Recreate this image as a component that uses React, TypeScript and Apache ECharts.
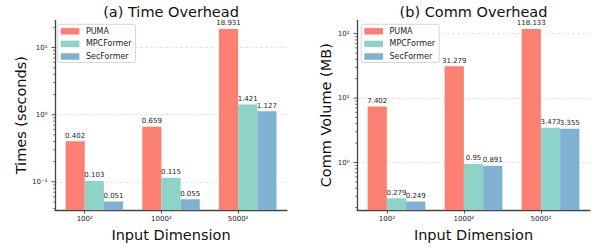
import React, { useEffect, useRef } from 'react';
import * as echarts from 'echarts';

const categories = ['100²', '1000²', '5000²'];
const seriesNames = ['PUMA', 'MPCFormer', 'SecFormer'];
const timePUMA = [0.402, 0.659, 18.931];
const timeMPCFormer = [0.103, 0.115, 1.421];
const timeSecFormer = [0.051, 0.055, 1.127];
const commPUMA = [7.402, 31.279, 118.133];
const commMPCFormer = [0.279, 0.95, 3.473];
const commSecFormer = [0.249, 0.891, 3.355];
const colors = ['#fb8072', '#8dd3c7', '#80b1d3'];
const titles = ['(a) Time Overhead', '(b) Comm Overhead'];
const yLabels = ['Times (seconds)', 'Comm Volume (MB)'];
const xLabel = 'Input Dimension';

const FONT = 'DejaVu Sans';
const SUP: Record<string, string> = { '0': '⁰', '1': '¹', '2': '²', '3': '³', '4': '⁴', '5': '⁵', '6': '⁶', '7': '⁷', '8': '⁸', '9': '⁹', '-': '⁻' };

function logLimits(vals: number[]): [number, number] {
  const lo = Math.log10(Math.min(...vals));
  const hi = Math.log10(Math.max(...vals));
  const m = (hi - lo) * 0.05;
  return [Math.pow(10, lo - m), Math.pow(10, hi + m)];
}

function tickValues(min: number, max: number): number[][] {
  const out: number[][] = [];
  for (let e = Math.floor(Math.log10(min)); e <= Math.ceil(Math.log10(max)); e++) {
    for (let k = 1; k <= 9; k++) {
      const v = k * Math.pow(10, e);
      if (v >= min && v <= max) out.push([v, k === 1 ? 1 : 0]);
    }
  }
  return out;
}

function powLabel(v: number): string {
  const l = Math.log10(v);
  const r = Math.round(l);
  if (Math.abs(l - r) > 1e-6) return '';
  return '10' + String(r).split('').map((c) => SUP[c]).join('');
}

export default function App() {
  const ref = useRef<HTMLDivElement>(null);
  useEffect(() => {
    if (!ref.current) return;
    const chart = echarts.init(ref.current, null, { renderer: 'svg' });
    const panels = [
      { data: [timePUMA, timeMPCFormer, timeSecFormer], grid: { left: 55, top: 20.3, width: 232, height: 190.4 }, nameGap: 26, legendLeft: 57.7 },
      { data: [commPUMA, commMPCFormer, commSecFormer], grid: { left: 357, top: 20.3, width: 233, height: 190.4 }, nameGap: 21.5, legendLeft: 361.3 },
    ];
    const xMin = -0.3875;
    const xMax = 2.6375;
    const grids: any[] = [];
    const xAxes: any[] = [];
    const yAxes: any[] = [];
    const series: any[] = [];
    const titleOpts: any[] = [];
    const legends: any[] = [];
    panels.forEach((p, pi) => {
      const all = p.data.flat();
      const [yMin, yMax] = logLimits(all);
      grids.push(p.grid);
      const barWidth = (p.grid.width / (xMax - xMin)) * 0.25;
      titleOpts.push({
        text: titles[pi],
        left: p.grid.left + p.grid.width / 2,
        textAlign: 'center',
        top: 3.5,
        padding: 0,
        textStyle: { fontFamily: FONT, fontSize: 14.5, fontWeight: 'normal', color: '#111', lineHeight: 16 },
      });
      xAxes.push({
        type: 'value',
        gridIndex: pi,
        min: xMin,
        max: xMax,
        name: xLabel,
        nameLocation: 'middle',
        nameGap: 15.3,
        nameTextStyle: { fontFamily: FONT, fontSize: 14.5, color: '#111' },
        axisLine: { show: true, onZero: false, lineStyle: { color: '#444', width: 1.3 } },
        axisTick: { show: true, customValues: [0, 1, 2], length: 3.5, lineStyle: { color: '#444', width: 0.9 } },
        axisLabel: {
          customValues: [0, 1, 2],
          formatter: (v: number) => categories[Math.round(v)] ?? '',
          fontFamily: FONT,
          fontSize: 7,
          color: '#222',
          margin: 5,
        },
        splitLine: { show: false },
      });
      yAxes.push({
        type: 'log',
        gridIndex: pi,
        min: yMin,
        max: yMax,
        startValue: yMin,
        name: yLabels[pi],
        nameLocation: 'middle',
        nameGap: p.nameGap,
        nameTextStyle: { fontFamily: FONT, fontSize: 14.5, color: '#111' },
        axisLine: { show: true, onZero: false, lineStyle: { color: '#444', width: 1.3 } },
        axisTick: { show: false },
        axisLabel: {
          formatter: (v: number) => powLabel(v),
          showMinLabel: false,
          showMaxLabel: false,
          fontFamily: FONT,
          fontSize: 7,
          color: '#222',
          margin: 7.5,
        },
        splitLine: { show: true, showMinLine: false, showMaxLine: false, lineStyle: { color: '#ddd', type: [3, 2], width: 0.8 } },
        minorTick: { show: false },
      });
      legends.push({
        data: seriesNames,
        orient: 'vertical',
        left: p.legendLeft,
        top: 24.3,
        icon: 'rect',
        itemWidth: 18.7,
        itemHeight: 6.5,
        itemGap: 3.6,
        padding: [2.5, 4, 1.5, 3],
        backgroundColor: 'rgba(255,255,255,0.8)',
        borderColor: '#ccc',
        borderWidth: 0.8,
        borderRadius: 2,
        selectedMode: false,
        textStyle: { fontFamily: FONT, fontSize: 8, color: '#222', lineHeight: 9, padding: [0, 0, 0, 1.5] },
      });
      series.push({
        type: 'bar',
        name: '_pad' + pi,
        xAxisIndex: pi,
        yAxisIndex: pi,
        data: categories.map((_, i) => [i, null]),
        barWidth,
        barGap: '0%',
        silent: true,
        itemStyle: { color: 'transparent' },
      });
      p.data.forEach((vals, si) => {
        series.push({
          type: 'bar',
          name: seriesNames[si],
          xAxisIndex: pi,
          yAxisIndex: pi,
          data: vals.map((v, i) => [i, v]),
          barWidth,
          barGap: '0%',
          itemStyle: { color: colors[si] },
          label: {
            show: true,
            position: 'top',
            distance: 2,
            formatter: (prm: any) => String(vals[prm.dataIndex]),
            fontFamily: FONT,
            fontSize: 7,
            color: '#222',
          },
        });
      });
      series.push({
        type: 'custom',
        name: '_ticks' + pi,
        xAxisIndex: pi,
        yAxisIndex: pi,
        clip: false,
        silent: true,
        z: 10,
        encode: { x: 1, y: 0 },
        data: tickValues(yMin, yMax),
        renderItem: (params: any, api: any) => {
          const v = api.value(0);
          const major = api.value(1);
          const y = api.coord([0, v])[1];
          const x0 = params.coordSys.x;
          const len = major ? 3.5 : 2;
          return {
            type: 'line',
            shape: { x1: x0 - len, y1: y, x2: x0, y2: y },
            style: { stroke: '#444', lineWidth: major ? 0.9 : 0.7 },
          };
        },
      });
    });
    chart.setOption({
      animation: false,
      backgroundColor: '#fff',
      title: titleOpts,
      legend: legends,
      grid: grids,
      xAxis: xAxes,
      yAxis: yAxes,
      series,
    });
    return () => chart.dispose();
  }, []);
  return <div ref={ref} style={{ width: 597, height: 247, position: 'absolute', left: 0, top: 0 }} />;
}
